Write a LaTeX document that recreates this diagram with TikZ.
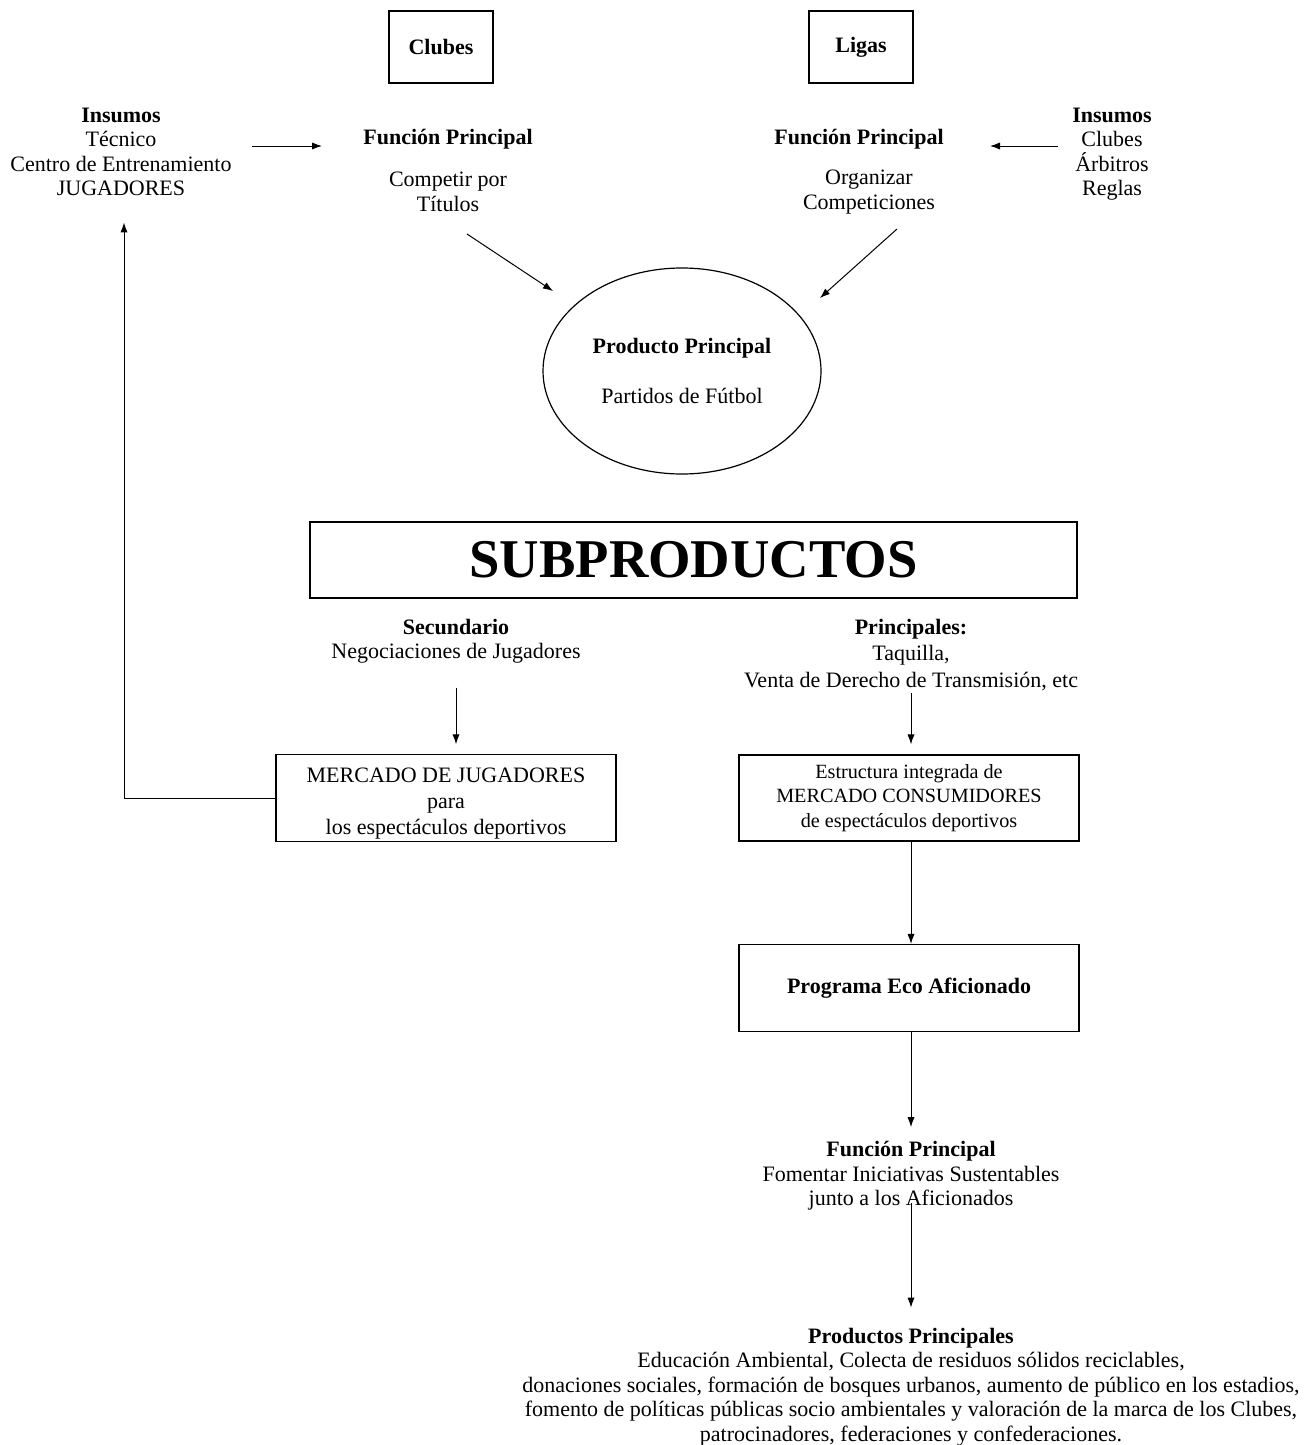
\documentclass[tikz,border=0pt]{standalone}
\usepackage{fontspec}
\setmainfont{Liberation Serif}
\usetikzlibrary{positioning,shapes.geometric,arrows.meta}

\begin{document}
\begin{tikzpicture}[x=0.5pt,y=-0.5pt,
    every node/.style={font=\fontsize{11}{12.25}\selectfont, align=center, inner sep=1pt},
    caja/.style={draw, line width=0.6pt},
    titulo/.style={font=\fontsize{11}{12.25}\selectfont\bfseries},
    flecha/.style={-{Latex[length=5pt,width=3.6pt]}, line width=0.5pt}]
    \useasboundingbox (0,0) rectangle (1314,1445);

    % arriba
    \node[caja, minimum width=52pt, minimum height=36pt, titulo] (clubes) at (441,47) {Clubes};
    \node[caja, minimum width=52pt, minimum height=36pt, titulo] (ligas) at (861,47) {Ligas};

    \node (insL) at (121,152) {\textbf{Insumos}\\Técnico\\Centro de Entrenamiento\\JUGADORES};
    \node[titulo] (funL) at (448,139) {Función Principal};
    \node (compL) at (448,192) {Competir por\\Títulos};

    \node[titulo] (funR) at (859,139) {Función Principal};
    \node (orgR) at (869,192) {Organizar\\Competiciones};
    \node (insR) at (1112,154) {\textbf{Insumos}\\Clubes\\Árbitros\\Reglas};

    \coordinate (a1) at (252,146); \coordinate (a2) at (322,146);
    \coordinate (b1) at (1058,146); \coordinate (b2) at (990,146);
    \coordinate (c1) at (467,234); \coordinate (c2) at (553,291);
    \coordinate (d1) at (897,229); \coordinate (d2) at (820,298);

    \node[draw, ellipse, line width=0.6pt, minimum width=139pt, minimum height=103pt] (prod) at (682,371)
        {\textbf{Producto Principal}\\[13pt]Partidos de Fútbol};

    \draw[flecha] (a1) -- (a2);
    \draw[flecha] (b1) -- (b2);
    \draw[flecha] (c1) -- (c2);
    \draw[flecha] (d1) -- (d2);

    % subproductos
    \node[caja, minimum width=383.5pt, minimum height=38pt,
        font=\fontsize{27.3}{33}\selectfont\bfseries] (sub) at (693.5,560) {SUBPRODUCTOS};

    \node (sec) at (456,641) {\textbf{Secundario}\\Negociaciones de Jugadores};
    \node[font=\fontsize{11}{13.2}\selectfont] (prin) at (911,655) {\textbf{Principales:}\\Taquilla,\\Venta de Derecho de Transmisión, etc};

    \node[caja, minimum width=170pt, minimum height=43pt, font=\fontsize{11}{12.9}\selectfont] (merc) at (446,798)
        {\rule{0pt}{13pt}MERCADO DE JUGADORES\\para\\los espectáculos deportivos};
    \node[caja, minimum width=170pt, minimum height=43pt,
        font=\fontsize{10.1}{12.25}\selectfont] (estr) at (909,798)
        {Estructura integrada de\\MERCADO CONSUMIDORES\\de espectáculos deportivos};
    \node[caja, minimum width=170pt, minimum height=43.5pt, titulo] (prog) at (909,988)
        {Programa Eco Aficionado};

    \draw[flecha, shorten <=11pt, shorten >=5pt] (sec.south) -- (sec.south |- merc.north);
    \draw[flecha, shorten >=5pt] (prin.south) -- (prin.south |- estr.north);
    \draw[flecha] (merc.west) -| ([xshift=1.5pt, yshift=-12pt]insL.south);
    \draw[flecha] (estr.south -| prin.south) -- (prin.south |- prog.north);

    % abajo
    \node (fom) at (911,1176) {\textbf{Función Principal}\\Fomentar Iniciativas Sustentables\\junto a los Aficionados};
    \node (prods) at (911,1387) {\textbf{Productos Principales}\\Educación Ambiental, Colecta de residuos sólidos reciclables,\\donaciones sociales, formación de bosques urbanos, aumento de público en los estadios,\\fomento de políticas públicas socio ambientales y valoración de la marca de los Clubes,\\patrocinadores, federaciones y confederaciones.};

    \draw[flecha, shorten >=6pt] (fom.north |- prog.south) -- (fom.north);
    \draw[flecha, shorten <=-5pt, shorten >=9pt] (fom.south) -- (prods.north);
\end{tikzpicture}
\end{document}
